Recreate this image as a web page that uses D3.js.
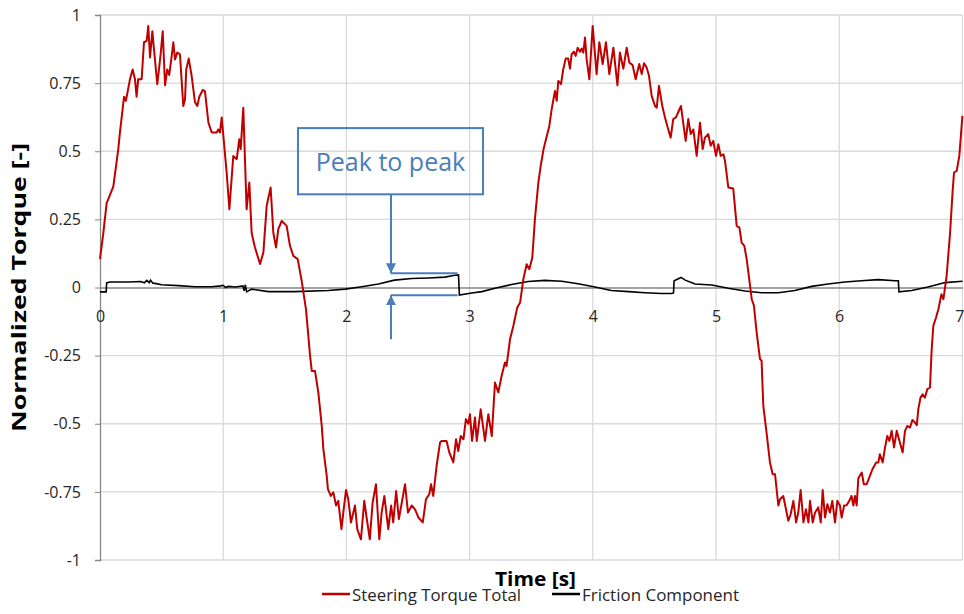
<!DOCTYPE html>
<meta charset="utf-8">
<title>Steering torque vs friction</title>
<style>
  body { margin: 0; background: #fff; }
  text { font-family: "Open Sans", sans-serif; }
  .grid line { stroke: #d9d9d9; stroke-width: 1.3px; }
  .tick-label { font-size: 16px; fill: #262626; }
  .title { font-size: 20px; font-weight: bold; fill: #000; }
  .legend text { font-size: 16px; fill: #262626; }
  .note { stroke: #4a7ebb; stroke-width: 2px; fill: none; }
</style>
<body>
<script src="https://d3js.org/d3.v7.min.js"></script>
<script>

var width = 964,
    height = 614;

// chart data
var xTicks = [0, 1, 2, 3, 4, 5, 6, 7];
var yTicks = [-1, -0.75, -0.5, -0.25, 0, 0.25, 0.5, 0.75, 1];
var yTickLabels = ["-1", "-0.75", "-0.5", "-0.25", "0", "0.25", "0.5", "0.75", "1"];
var seriesNames = ["Steering Torque Total", "Friction Component"];
var seriesColors = ["#c00000", "#000000"];

var steerTime = [0, .027, .054, .108, .149, .162, .18, .195, .21, .225, .243, .265, .284, .297, .31, .338, .357, .379, .392, .406,
  .425, .438, .465, .481, .492, .509, .528, .546, .562, .582, .595, .609, .627, .649, .676, .69, .70, .72, .744, .771,
  .79, .806, .834, .852, .88, .907, .947, .96, .974, .988, 1.006, 1.028, 1.05, 1.082, 1.11, 1.13, 1.142, 1.163, 1.19, 1.212,
  1.231, 1.258, 1.299, 1.326, 1.353, 1.385, 1.407, 1.429, 1.447, 1.475, 1.515, 1.542, 1.569, 1.605, 1.637, 1.672, 1.705, 1.719, 1.745, 1.772,
  1.80, 1.813, 1.84, 1.85, 1.873, 1.894, 1.916, 1.934, 1.96, 1.975, 1.997, 2.015, 2.037, 2.07, 2.088, 2.118, 2.145, 2.164, 2.19, 2.213,
  2.24, 2.267, 2.286, 2.308, 2.34, 2.363, 2.38, 2.404, 2.426, 2.44, 2.476, 2.50, 2.53, 2.557, 2.584, 2.62, 2.646, 2.673, 2.687, 2.705,
  2.732, 2.76, 2.773, 2.813, 2.835, 2.868, 2.89, 2.908, 2.928, 2.95, 2.97, 2.99, 3.003, 3.02, 3.044, 3.058, 3.09, 3.125, 3.152, 3.18,
  3.206, 3.233, 3.26, 3.287, 3.30, 3.328, 3.355, 3.387, 3.41, 3.436, 3.463, 3.485, 3.509, 3.53, 3.558, 3.577, 3.6, 3.647, 3.666, 3.693,
  3.707, 3.72, 3.742, 3.76, 3.78, 3.80, 3.815, 3.828, 3.847, 3.861, 3.877, 3.896, 3.91, 3.923, 3.937, 3.95, 3.972, 3.999, 4.031, 4.053,
  4.08, 4.107, 4.134, 4.167, 4.2, 4.22, 4.248, 4.275, 4.296, 4.323, 4.348, 4.377, 4.397, 4.416, 4.437, 4.456, 4.478, 4.505, 4.519, 4.537,
  4.564, 4.586, 4.608, 4.632, 4.653, 4.675, 4.694, 4.716, 4.735, 4.754, 4.775, 4.795, 4.816, 4.843, 4.87, 4.892, 4.91, 4.937, 4.957, 4.978,
  5.0, 5.019, 5.038, 5.06, 5.073, 5.1, 5.14, 5.168, 5.19, 5.208, 5.23, 5.249, 5.27, 5.29, 5.308, 5.33, 5.357, 5.37, 5.384, 5.41,
  5.438, 5.46, 5.479, 5.506, 5.52, 5.546, 5.568, 5.587, 5.606, 5.628, 5.65, 5.668, 5.687, 5.71, 5.73, 5.75, 5.763, 5.785, 5.804, 5.83,
  5.85, 5.866, 5.885, 5.904, 5.925, 5.944, 5.966, 5.985, 6.006, 6.02, 6.04, 6.06, 6.082, 6.10, 6.115, 6.128, 6.142, 6.155, 6.183, 6.2,
  6.223, 6.25, 6.27, 6.3, 6.318, 6.33, 6.353, 6.372, 6.39, 6.407, 6.426, 6.445, 6.467, 6.485, 6.515, 6.534, 6.553, 6.575, 6.594, 6.615,
  6.63, 6.642, 6.66, 6.677, 6.696, 6.715, 6.737, 6.75, 6.764, 6.786, 6.805, 6.83, 6.846, 6.872, 6.9, 6.92, 6.932, 6.954, 6.975, 7.0];

var steerTorque = [.104, .20, .31, .37, .51, .57, .64, .70, .685, .72, .764, .80, .764, .70, .764, .764, .90, .905, .96, .844,
  .94, .875, .746, .81, .856, .94, .742, .80, .78, .85, .90, .837, .862, .856, .666, .69, .80, .84, .776, .68,
  .666, .70, .725, .72, .605, .569, .569, .58, .569, .624, .532, .422, .287, .483, .471, .544, .508, .66, .287, .385,
  .20, .147, .086, .128, .30, .367, .20, .147, .214, .244, .226, .153, .116, .104, .024, -.08, -.25, -.306, -.306, -.385,
  -.508, -.593, -.69, -.74, -.765, -.752, -.80, -.783, -.887, -.826, -.743, -.777, -.862, -.80, -.887, -.924, -.783, -.844, -.924, -.789,
  -.722, -.924, -.826, -.765, -.887, -.80, -.862, -.747, -.85, -.814, -.722, -.826, -.80, -.814, -.844, -.862, -.777, -.758, -.722, -.765,
  -.655, -.569, -.563, -.563, -.605, -.642, -.557, -.60, -.545, -.557, -.483, -.50, -.465, -.563, -.477, -.563, -.447, -.563, -.465, -.545,
  -.349, -.385, -.324, -.275, -.288, -.19, -.141, -.073, -.055, .03, .085, .067, .11, .25, .385, .446, .507, .593, .654, .721,
  .685, .758, .746, .80, .84, .84, .803, .856, .865, .85, .88, .865, .877, .862, .917, .838, .764, .96, .783, .90,
  .82, .90, .783, .88, .742, .862, .803, .88, .826, .816, .764, .82, .783, .823, .807, .777, .703, .666, .66, .74,
  .666, .624, .587, .55, .618, .624, .644, .666, .60, .538, .618, .563, .58, .483, .605, .508, .55, .563, .52, .538,
  .483, .526, .483, .489, .465, .367, .363, .226, .22, .165, .153, .104, .03, -.043, -.067, -.165, -.263, -.269, -.434, -.532,
  -.642, -.685, -.685, -.80, -.777, -.765, -.814, -.856, -.832, -.783, -.862, -.826, -.743, -.862, -.814, -.862, -.783, -.862, -.826, -.807,
  -.862, -.743, -.844, -.795, -.826, -.783, -.862, -.783, -.80, -.844, -.80, -.799, -.783, -.765, -.80, -.765, -.80, -.70, -.679, -.722,
  -.722, -.69, -.667, -.642, -.642, -.612, -.642, -.587, -.545, -.563, -.526, -.587, -.526, -.557, -.605, -.526, -.508, -.514, -.486, -.495,
  -.505, -.447, -.404, -.392, -.404, -.373, -.367, -.233, -.141, -.11, -.08, -.025, -.043, .043, .20, .349, .422, .428, .483, .63];

var frictionTime = [0, .05, .054, .08, .23, .33, .36, .38, .40, .41, .43, .446, .5, .636, .771, .907, .98, 1.0, 1.02, 1.04,
  1.1, 1.16, 1.17, 1.18, 1.19, 1.23, 1.366, 1.58, 1.853, 1.99, 2.124, 2.26, 2.39, 2.53, 2.665, 2.8, 2.88, 2.91, 2.917, 3.017,
  3.1, 3.206, 3.34, 3.476, 3.61, 3.748, 3.88, 4.018, 4.15, 4.29, 4.424, 4.56, 4.64, 4.655, 4.66, 4.716, 4.75, 4.8, 4.83, 4.965,
  5.1, 5.235, 5.37, 5.506, 5.64, 5.777, 5.91, 6.047, 6.18, 6.318, 6.453, 6.48, 6.485, 6.588, 6.72, 6.86, 7.0];

var frictionTorque = [-.016, -.016, .017, .02, .02, .022, .017, .026, .018, .027, .016, .015, .01, .007, .003, .003, .006, .008, .0, .004,
  .002, .006, -.012, .01, -.016, -.006, -.015, -.015, -.011, -.006, .003, .013, .027, .033, .035, .038, .045, .046, -.028, -.02,
  -.015, -.003, .011, .022, .026, .023, .014, .002, -.011, -.015, -.019, -.022, -.022, -.02, .025, .037, .027, .018, .013, .009,
  -.003, -.013, -.019, -.019, -.011, .004, .013, .02, .025, .029, .025, .025, -.016, -.011, .002, .018, .023];

// annotation, in data units
var noteText = "Peak to peak";
var noteBox = {t0: 1.607, t1: 3.109, v0: .585, v1: .342};
var noteArrowT = 2.362, noteLineEndT = 2.902;
var noteUpperV = .052, noteLowerV = -.028, noteTailV = -.19;

var x = d3.scaleLinear().domain([0, 7]).range([100, 962.4]);
var y = d3.scaleLinear().domain([-1, 1]).range([560, 15]);

var svg = d3.select("body").append("svg")
  .attr("width", width)
  .attr("height", height);

// grid
var grid = svg.append("g").attr("class", "grid");
grid.selectAll(".h").data(yTicks.filter(function(d) { return d !== 0; }))
  .enter().append("line")
  .attr("x1", x(0)).attr("x2", x(7))
  .attr("y1", function(d) { return y(d); })
  .attr("y2", function(d) { return y(d); });
grid.selectAll(".v").data(xTicks.filter(function(d) { return d !== 0; }))
  .enter().append("line")
  .attr("y1", y(1)).attr("y2", y(-1))
  .attr("x1", function(d) { return x(d); })
  .attr("x2", function(d) { return x(d); });

// y axis
var yAxis = d3.axisLeft(y).tickValues(yTicks)
  .tickFormat(function(d, i) { return yTickLabels[i]; })
  .tickSize(5).tickPadding(14);
var ya = svg.append("g").attr("transform", "translate(" + x(0) + ",0)").call(yAxis);
ya.select(".domain").attr("stroke", "#868686").attr("stroke-width", 1.3);
ya.selectAll(".tick line").attr("stroke", "#868686");
ya.selectAll(".tick text").attr("class", "tick-label").attr("font-size", null).attr("font-family", null);

// x axis along zero
var xAxis = d3.axisBottom(x).tickValues(xTicks).tickFormat(d3.format("d"))
  .tickSize(0).tickPadding(22).tickSizeOuter(0);
var xa = svg.append("g").attr("transform", "translate(0," + y(0) + ")").call(xAxis);
xa.select(".domain").attr("stroke", "#868686").attr("stroke-width", 1.3);
xa.selectAll(".tick text").attr("class", "tick-label").attr("font-size", null).attr("font-family", null)
  .attr("dy", null).attr("y", 34)
  // last label sits on the window edge, nudge it in so it stays readable
  .attr("x", function(d) { return d === 7 ? -3 : 0; });

// series
var line = d3.line()
  .x(function(d) { return x(d[0]); })
  .y(function(d) { return y(d[1]); });

var steer = steerTime.map(function(t, i) { return [t, steerTorque[i]]; });
var fric = frictionTime.map(function(t, i) { return [t, frictionTorque[i]]; });

svg.append("path").datum(fric)
  .attr("d", line).attr("fill", "none")
  .attr("stroke", seriesColors[1]).attr("stroke-width", 1.6);

svg.append("path").datum(steer)
  .attr("d", line).attr("fill", "none")
  .attr("stroke", seriesColors[0]).attr("stroke-width", 2)
  .attr("stroke-linejoin", "round");

// annotation
var defs = svg.append("defs");
defs.append("marker").attr("id", "arrow")
  .attr("viewBox", "0 0 10 10").attr("refX", 10).attr("refY", 5)
  .attr("markerWidth", 5).attr("markerHeight", 5).attr("orient", "auto")
  .append("path").attr("d", "M0,0L10,5L0,10Z").attr("fill", "#4a7ebb");

var note = svg.append("g");
note.append("rect").attr("class", "note")
  .attr("x", x(noteBox.t0)).attr("y", y(noteBox.v0))
  .attr("width", x(noteBox.t1) - x(noteBox.t0))
  .attr("height", y(noteBox.v1) - y(noteBox.v0))
  .attr("fill", "#fff");
note.append("text")
  .attr("x", (x(noteBox.t0) + x(noteBox.t1)) / 2)
  .attr("y", y(noteBox.v0) + 43)
  .attr("text-anchor", "middle")
  .attr("font-size", 25).attr("fill", "#4a7ebb")
  .text(noteText);
note.append("line").attr("class", "note")
  .attr("x1", x(noteArrowT)).attr("x2", x(noteArrowT))
  .attr("y1", y(noteBox.v1)).attr("y2", y(noteUpperV))
  .attr("marker-end", "url(#arrow)");
note.append("line").attr("class", "note")
  .attr("x1", x(noteArrowT)).attr("x2", x(noteArrowT))
  .attr("y1", y(noteTailV)).attr("y2", y(noteLowerV))
  .attr("marker-end", "url(#arrow)");
[noteUpperV, noteLowerV].forEach(function(v) {
  note.append("line").attr("class", "note")
    .attr("x1", x(noteArrowT)).attr("x2", x(noteLineEndT))
    .attr("y1", y(v)).attr("y2", y(v));
});

// axis titles
svg.append("text").attr("class", "title")
  .attr("x", 535.5).attr("y", 586)
  .attr("text-anchor", "middle")
  .attr("textLength", 81).attr("lengthAdjust", "spacingAndGlyphs")
  .text("Time [s]");
svg.append("text").attr("class", "title")
  .attr("transform", "translate(26," + 287.5 + ") rotate(-90)")
  .attr("text-anchor", "middle")
  .attr("textLength", 289).attr("lengthAdjust", "spacingAndGlyphs")
  .text("Normalized  Torque [-]");

// legend
var legendX = [322, 552];
var legendW = [169, 157];
var legend = svg.append("g").attr("class", "legend");
seriesNames.forEach(function(name, i) {
  legend.append("line")
    .attr("x1", legendX[i]).attr("x2", legendX[i] + 28)
    .attr("y1", 594).attr("y2", 594)
    .attr("stroke", seriesColors[i]).attr("stroke-width", 2.5);
  legend.append("text")
    .attr("x", legendX[i] + 30).attr("y", 601)
    .attr("textLength", legendW[i]).attr("lengthAdjust", "spacingAndGlyphs")
    .text(name);
});

</script>
